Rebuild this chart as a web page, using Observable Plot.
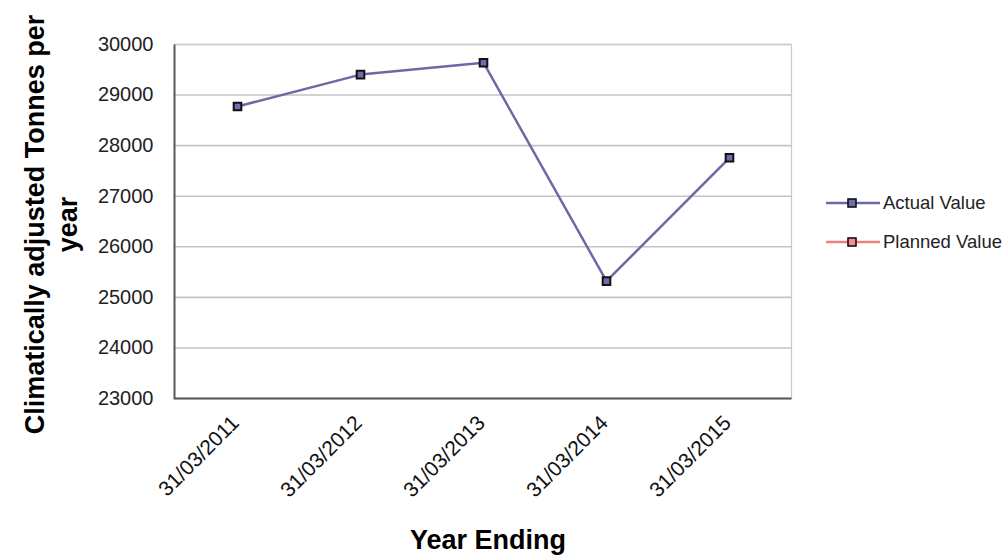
<!DOCTYPE html>
<html>
<head>
<meta charset="utf-8">
<script src="https://cdn.jsdelivr.net/npm/d3@7"></script>
<script src="https://cdn.jsdelivr.net/npm/@observablehq/plot@0.6"></script>
<style>
  html, body { margin: 0; padding: 0; background: #fff; }
  #wrap { position: relative; width: 1007px; height: 555px; font-family: "Liberation Sans", Arial, sans-serif; }
  #legend { position: absolute; left: 825px; top: 190px; font-size: 18.5px; color: #222; }
  .item { display: flex; align-items: center; height: 26px; margin-bottom: 13px; white-space: nowrap; }
  .item svg { margin-right: 2px; }
</style>
</head>
<body>
<div id="wrap"></div>
<script>
const yearEnding = ["31/03/2011", "31/03/2012", "31/03/2013", "31/03/2014", "31/03/2015"];
const actualValue = [28775, 29405, 29640, 25320, 27760];
const plannedValue = [null, null, null, null, null];
const yTicks = [23000, 24000, 25000, 26000, 27000, 28000, 29000, 30000];
const seriesNames = ["Actual Value", "Planned Value"];
const seriesColors = ["#6a6aa6", "#f07f7f"];
const markerFills = ["#6e6eac", "#ff8c8c"];

const actual = yearEnding.map((d, i) => ({date: d, value: actualValue[i]}));
const planned = yearEnding.map((d, i) => ({date: d, value: plannedValue[i]})).filter(d => d.value != null);

const W = 1007, H = 555, mL = 174, mR = 216, mT = 44, mB = 157;
const fw = W - mL - mR, fh = H - mT - mB;

const chart = Plot.plot({
  width: W,
  height: H,
  marginLeft: mL,
  marginRight: mR,
  marginTop: mT,
  marginBottom: mB,
  style: {fontFamily: "Liberation Sans, Arial, sans-serif", background: "#fff", color: "#222"},
  x: {type: "point", domain: yearEnding, padding: 0.5, axis: null},
  y: {domain: [23000, 30000], axis: null},
  marks: [
    Plot.gridY(yTicks, {stroke: "#c3c3c3", strokeOpacity: 1, strokeWidth: 1.6}),
    Plot.frame({stroke: "#c8c8c8", strokeWidth: 1.2}),
    Plot.frame({stroke: "#5a5a5a", strokeWidth: 2, strokeDasharray: `0,${fw + fh},${fw + fh}`}),
    Plot.axisY(yTicks, {tickSize: 0, tickPadding: 21, fontSize: 20, label: null, tickFormat: d => String(d), fill: "#222"}),
    Plot.text(yearEnding, {x: d => d, frameAnchor: "bottom", rotate: -45, textAnchor: "end", lineAnchor: "middle", dx: -2, dy: 21, fontSize: 21, fill: "#111"}),
    Plot.text(["Climatically adjusted Tonnes per\nyear"], {frameAnchor: "left", rotate: -90, textAnchor: "middle", lineAnchor: "middle", lineHeight: 1.22, dx: -125, dy: 3, fontSize: 27, fontWeight: "bold", fill: "#000"}),
    Plot.text(["Year Ending"], {frameAnchor: "bottom", textAnchor: "middle", lineAnchor: "middle", dx: 5, dy: 142, fontSize: 27, fontWeight: "bold", fill: "#000"}),
    Plot.line(planned, {x: "date", y: "value", stroke: seriesColors[1], strokeWidth: 2.5}),
    Plot.dot(planned, {x: "date", y: "value", symbol: "square", r: 4.3, fill: markerFills[1], stroke: "#111", strokeWidth: 2}),
    Plot.line(actual, {x: "date", y: "value", stroke: seriesColors[0], strokeWidth: 2.5}),
    Plot.dot(actual, {x: "date", y: "value", symbol: "square", r: 4.3, fill: markerFills[0], stroke: "#111", strokeWidth: 2})
  ]
});

const wrap = document.getElementById("wrap");
wrap.appendChild(chart);

const legend = document.createElement("div");
legend.id = "legend";
seriesNames.forEach((name, i) => {
  const item = document.createElement("div");
  item.className = "item";
  item.innerHTML = `<svg width="56" height="14"><line x1="1" y1="7" x2="55" y2="7" stroke="${seriesColors[i]}" stroke-width="2.5"/><rect x="23" y="3" width="8" height="8" fill="${markerFills[i]}" stroke="#111" stroke-width="1.6"/></svg><span>${name}</span>`;
  legend.appendChild(item);
});
wrap.appendChild(legend);
</script>
</body>
</html>
